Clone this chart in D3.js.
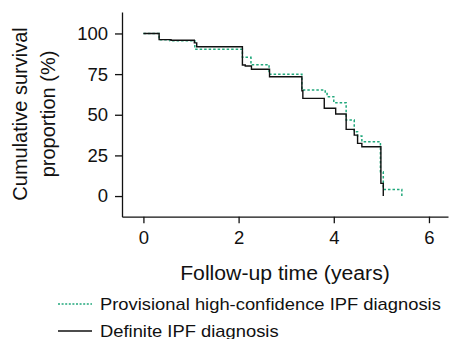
<!DOCTYPE html>
<html>
<head>
<meta charset="utf-8">
<script src="https://cdn.jsdelivr.net/npm/d3@7"></script>
<style>
  body { margin: 0; background: #fff; }
  svg text { font-family: "Liberation Sans", Arial, Helvetica, sans-serif; fill: #111; }
</style>
</head>
<body>
<div id="chart"></div>
<script>
// follow-up time (years) and survival (%) at each step
var definiteTimes = [0, 0.33, 0.58, 1.07, 1.12, 2.08, 2.14, 2.27, 2.65, 3.33, 3.35, 3.80, 4.04, 4.26, 4.43, 4.50, 4.59, 4.99, 5.04];
var definiteSurv  = [100, 96.2, 95.8, 94.2, 91.8, 80.6, 80.0, 78.0, 73.4, 64.8, 60.1, 54.0, 50.5, 41.0, 37.5, 32.4, 30.3, 7.8, 0];

var provisionalTimes = [0, 0.33, 0.56, 1.08, 2.08, 2.26, 2.64, 3.33, 3.82, 3.86, 4.00, 4.26, 4.43, 4.50, 4.59, 4.98, 5.04, 5.43];
var provisionalSurv  = [100, 96.2, 95.5, 90.3, 85.3, 80.8, 74.9, 65.2, 63.0, 61.1, 57.4, 46.8, 39.6, 36.9, 33.4, 15.0, 4.1, 0];

var xTicks = [0, 2, 4, 6];
var yTicks = [0, 25, 50, 75, 100];
var legendLabels = ["Provisional high-confidence IPF diagnosis", "Definite IPF diagnosis"];

var w = 449, h = 339;
var green = "#22a87c";

var svg = d3.select("#chart").append("svg")
    .attr("width", w)
    .attr("height", h);

var x = d3.scaleLinear().domain([-0.45, 6.4]).range([122, 448]);
var y = d3.scaleLinear().domain([-12.7, 113.2]).range([216.7, 12]);

function zip(ts, ss) {
    return ts.map(function(t, i) { return { t: t, s: ss[i] }; });
}

// the reference text is a bit wider than Liberation Sans, stretch it a little
function widen(sel, k) {
    sel.each(function() {
        var len = this.getComputedTextLength();
        d3.select(this).attr("textLength", len * k).attr("lengthAdjust", "spacingAndGlyphs");
    });
}

var line = d3.line()
    .x(function(d) { return x(d.t); })
    .y(function(d) { return y(d.s); })
    .curve(d3.curveStepAfter);

// axes
var yAxis = svg.append("g")
    .attr("transform", "translate(" + x.range()[0] + ",0)")
    .call(d3.axisLeft(y).tickValues(yTicks).tickFormat(d3.format("d"))
        .tickSize(7).tickSizeOuter(0).tickPadding(7));

var xAxis = svg.append("g")
    .attr("transform", "translate(0," + y.range()[0] + ")")
    .call(d3.axisBottom(x).tickValues(xTicks).tickFormat(d3.format("d"))
        .tickSize(6.5).tickSizeOuter(0).tickPadding(8));

[xAxis, yAxis].forEach(function(a) {
    a.selectAll("path, line").attr("stroke", "#111").attr("stroke-width", 1.3);
    a.selectAll("text").style("font-size", "18.5px").attr("fill", "#111");
});

// curves
svg.append("path")
    .datum(zip(provisionalTimes, provisionalSurv))
    .attr("d", line)
    .attr("fill", "none")
    .attr("stroke", green)
    .attr("stroke-width", 1.5)
    .attr("stroke-dasharray", "2.5,2");

svg.append("path")
    .datum(zip(definiteTimes, definiteSurv))
    .attr("d", line)
    .attr("fill", "none")
    .attr("stroke", "#111")
    .attr("stroke-width", 1.4);

// axis titles
svg.append("text")
    .attr("x", 285).attr("y", 280)
    .attr("text-anchor", "middle")
    .style("font-size", "20px")
    .text("Follow-up time (years)")
    .call(widen, 1.06);

var yTitle = svg.append("text")
    .attr("transform", "translate(0,114) rotate(-90)")
    .attr("text-anchor", "middle")
    .style("font-size", "20px");
yTitle.append("tspan").attr("x", 0).attr("y", 27).text("Cumulative survival");
yTitle.append("tspan").attr("x", 0).attr("y", 55).text("proportion (%)");

// legend
var legend = svg.selectAll(".legend")
    .data(legendLabels)
    .enter().append("g")
    .attr("class", "legend")
    .attr("transform", function(d, i) { return "translate(0," + (304 + i * 27) + ")"; });

legend.append("line")
    .attr("x1", 58).attr("x2", 92)
    .attr("y1", 0).attr("y2", 0)
    .attr("stroke", function(d, i) { return i == 0 ? green : "#111"; })
    .attr("stroke-width", function(d, i) { return i == 0 ? 1.3 : 1.4; })
    .attr("stroke-dasharray", function(d, i) { return i == 0 ? "2,1.6" : null; });

legend.append("text")
    .attr("x", 100).attr("y", 5.5)
    .style("font-size", "17px")
    .text(function(d) { return d; })
    .call(widen, 1.08);
</script>
</body>
</html>
